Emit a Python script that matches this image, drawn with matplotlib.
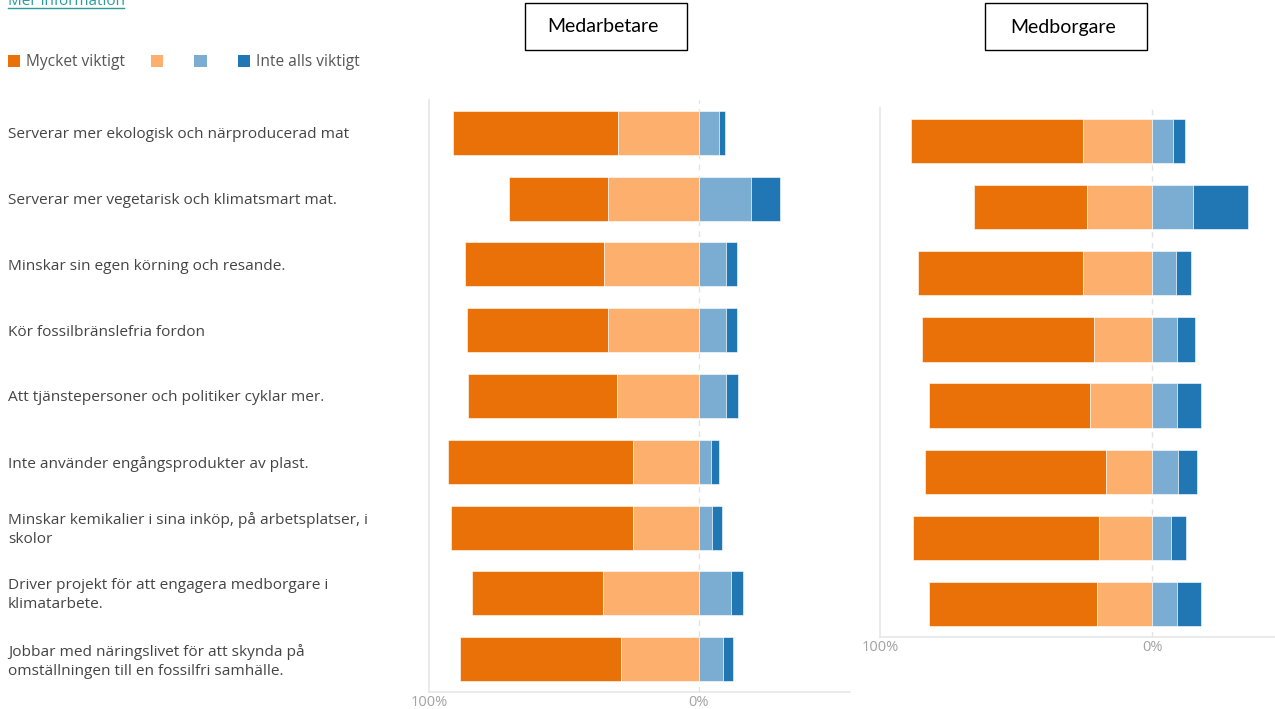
import matplotlib

matplotlib.use("Agg")
import matplotlib.pyplot as plt
from matplotlib.lines import Line2D
from matplotlib.patches import Patch, Rectangle
from matplotlib.transforms import blended_transform_factory

plt.rcParams["font.family"] = ["Open Sans", "DejaVu Sans"]

# ============================================
# Data (percent)
# ============================================
questions = [
    "Serverar mer ekologisk och närproducerad mat",
    "Serverar mer vegetarisk och klimatsmart mat.",
    "Minskar sin egen körning och resande.",
    "Kör fossilbränslefria fordon",
    "Att tjänstepersoner och politiker cyklar mer.",
    "Inte använder engångsprodukter av plast.",
    "Minskar kemikalier i sina inköp, på arbetsplatser, i\nskolor",
    "Driver projekt för att engagera medborgare i\nklimatarbete.",
    "Jobbar med näringslivet för att skynda på\nomställningen till en fossilfri samhälle.",
]
legend_labels = ["Mycket viktigt", "", "", "Inte alls viktigt"]
colors = ["#EA7008", "#FDB06D", "#7BADD3", "#2077B4"]

# Medarbetare (9 questions)
arb_very = [61, 37, 51.5, 52.5, 55, 68.5, 67.5, 48.5, 59.5]
arb_some = [30, 33.5, 35, 33.5, 30.5, 24.5, 24.5, 35.5, 29]
arb_little = [7.5, 19.5, 10, 10, 10, 4.5, 5, 12, 9]
arb_not = [2, 10.5, 4, 4, 4.5, 3, 3.5, 4.5, 3.5]

# Medborgare (8 questions)
borg_very = [63, 41.5, 60.5, 63, 59, 66.5, 68.5, 61.5]
borg_some = [25.5, 24, 25.5, 21.5, 23, 17, 19.5, 20.5]
borg_little = [7.5, 15, 8.5, 9, 9, 9.5, 7, 9]
borg_not = [4.5, 20, 5.5, 6.5, 9, 7, 5.5, 9]

W, H = 1275, 709
fig = plt.figure(figsize=(W / 100, H / 100), dpi=100)


def fx(px):
    return px / W


def fy(py):
    return 1 - py / H


def draw_panel(ax, very, some, little, not_at_all, xmax):
    y = list(range(len(very)))
    left_very = [-(v + s) for v, s in zip(very, some)]
    left_some = [-s for s in some]
    ax.barh(y, very, left=left_very, height=0.67, color=colors[0], edgecolor="white", linewidth=0.4)
    ax.barh(y, some, left=left_some, height=0.67, color=colors[1], edgecolor="white", linewidth=0.4)
    ax.barh(y, little, left=0, height=0.67, color=colors[2], edgecolor="white", linewidth=0.4)
    ax.barh(y, not_at_all, left=little, height=0.67, color=colors[3], edgecolor="white", linewidth=0.4)
    ax.set_xlim(-100, xmax)
    ax.set_ylim(len(very) - 0.5, -0.5)
    ax.axvline(0, color="#E3E3E3", linestyle=(0, (4, 4)), linewidth=1, zorder=0)
    ax.set_xticks([-100, 0])
    ax.set_xticklabels(["100%", "0%"])
    ax.set_yticks([])
    ax.tick_params(axis="x", length=0, pad=2, labelsize=10.5, labelcolor="#A2A2A2")
    for side in ["top", "right"]:
        ax.spines[side].set_visible(False)
    for side in ["left", "bottom"]:
        ax.spines[side].set_color("#E6E6E6")
        ax.spines[side].set_linewidth(1.2)


# Left panel: Medarbetare
ax1 = fig.add_axes([fx(429), fy(692), fx(850 - 429), (692 - 100) / H])
draw_panel(ax1, arb_very, arb_some, arb_little, arb_not, 56)

# Right panel: Medborgare
ax2 = fig.add_axes([fx(880), fy(637), fx(1275 - 880), (637 - 108) / H])
draw_panel(ax2, borg_very, borg_some, borg_little, borg_not, 45)

# Category labels on the left
trans = blended_transform_factory(fig.transFigure, ax1.transData)
for i, q in enumerate(questions):
    ax1.text(fx(8), i + 0.03, q, transform=trans, ha="left", va="center",
             fontsize=11.1, color="#444444", linespacing=1.35)

# Title boxes
for x0, title in [(525, "Medarbetare"), (985, "Medborgare")]:
    fig.patches.append(Rectangle((fx(x0), fy(50)), fx(162), 47 / H, transform=fig.transFigure,
                                 facecolor="white", edgecolor="black", linewidth=1))
    fig.text(fx(x0 + 78), fy(27), title, ha="center", va="center",
             fontsize=14, color="black", family=["Lato", "DejaVu Sans"])

# Legend
handles = [Patch(facecolor=c, edgecolor="none") for c in colors]
fig.legend(handles, legend_labels, loc="center left", bbox_to_anchor=(fx(8), fy(62)),
           ncol=4, frameon=False, fontsize=11.2, handlelength=0.8, handleheight=0.8,
           handletextpad=0.35, columnspacing=1.65, borderpad=0, borderaxespad=0,
           labelcolor="#555555")

# "Mer information" link, cut at the top edge
fig.text(fx(8), fy(5), "Mer information", ha="left", va="baseline", fontsize=11, color="#2A9C9C")
fig.add_artist(Line2D([fx(8), fx(124)], [fy(8), fy(8)], transform=fig.transFigure,
                      color="#2A9C9C", linewidth=1))

plt.savefig("out.png", dpi=100)
